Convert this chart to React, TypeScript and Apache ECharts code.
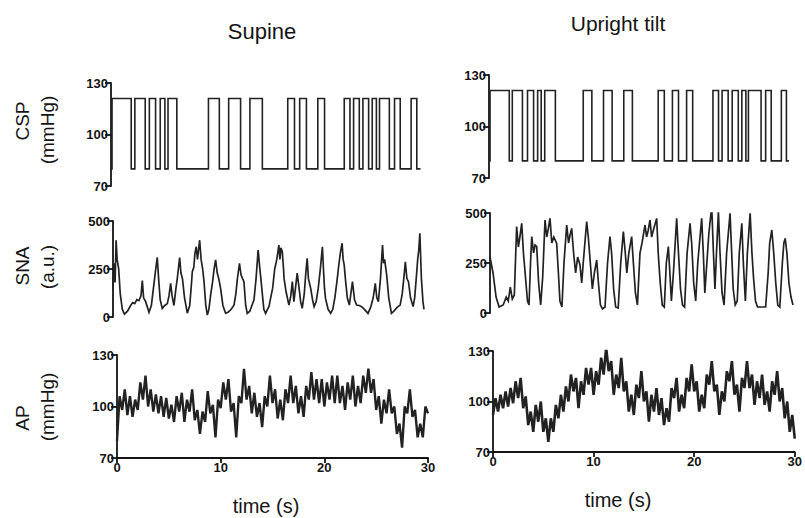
import React, { useEffect, useRef } from "react";
import * as echarts from "echarts";

// ---------- tick labels ----------
const X_TICKS = [0, 10, 20, 30];
const CSP_TICKS = [70, 100, 130];
const SNA_TICKS = [0, 250, 500];
const AP_TICKS = [70, 100, 130];

// ---------- CSP (square-wave neck pressure): levels + switch times (s) ----------
const CSP_LEVELS = [80, 121];
const CSP_SUPINE_SWITCH = [0.1, 1.95, 2.3, 3.3, 3.7, 4.3, 4.75, 5.2, 5.5, 6.35, 9.4, 10.45, 11.35, 12.5, 13.4, 14.6, 17.05, 17.7, 18.2, 18.85, 19.95, 20.6, 22.5, 23.05, 23.4, 23.95, 24.3, 24.85, 25.2, 25.6, 25.9, 26.85, 27.35, 27.9, 28.95, 29.5];
const CSP_SUPINE_END = 29.85;
const CSP_TILT_SWITCH = [0.1, 2.0, 2.3, 3.3, 3.8, 4.4, 4.8, 5.15, 5.5, 6.55, 9.3, 10.15, 11.3, 12.15, 13.3, 14.15, 16.7, 17.3, 18.1, 18.7, 19.5, 20.1, 22.1, 22.65, 23.0, 23.6, 24.0, 24.6, 24.95, 25.35, 25.6, 26.85, 27.3, 27.85, 28.85, 29.35];
const CSP_TILT_END = 29.6;

// ---------- SNA (a.u.) [time s, value] ----------
const SNA_SUPINE: [number, number][] = [
  [0, 150], [0.1, 280], [0.2, 180], [0.3, 400], [0.4, 300], [0.55, 250], [0.7, 120], [0.9, 40], [1.1, 15], [1.4, 30],
  [1.7, 60], [1.9, 75], [2.1, 70], [2.3, 90], [2.5, 85], [2.7, 110], [2.83, 190], [2.95, 100], [3.15, 80], [3.47, 25],
  [3.7, 60], [3.9, 150], [4.1, 240], [4.27, 310], [4.4, 200], [4.55, 90], [4.75, 45], [5.0, 60], [5.24, 70], [5.4, 110],
  [5.56, 175], [5.7, 110], [5.88, 60], [6.05, 140], [6.2, 200], [6.43, 310], [6.55, 230], [6.7, 200], [6.9, 100], [7.17, 20],
  [7.4, 60], [7.55, 160], [7.65, 236], [7.8, 260], [7.9, 330], [8.03, 366], [8.15, 300], [8.25, 350], [8.36, 400], [8.5, 300],
  [8.65, 250], [8.78, 184], [8.95, 60], [9.1, 10], [9.25, 40], [9.42, 115], [9.6, 180], [9.75, 250], [9.9, 297], [10.05, 230],
  [10.2, 200], [10.38, 149], [10.6, 60], [10.86, 20], [11.1, 25], [11.4, 40], [11.67, 62], [11.85, 120], [12.0, 200], [12.2, 280],
  [12.35, 220], [12.5, 200], [12.63, 184], [12.8, 60], [12.95, 19], [13.2, 30], [13.4, 60], [13.6, 89], [13.8, 200], [14.0, 349],
  [14.15, 260], [14.3, 180], [14.4, 123], [14.55, 40], [14.72, 19], [14.9, 40], [15.05, 55], [15.2, 97], [15.4, 150], [15.6, 250],
  [15.8, 300], [16.0, 375], [16.1, 300], [16.2, 360], [16.33, 340], [16.45, 250], [16.5, 201], [16.7, 130], [16.97, 62], [17.15, 110],
  [17.3, 184], [17.45, 80], [17.6, 150], [17.77, 228], [17.95, 150], [18.1, 80], [18.25, 45], [18.45, 120], [18.6, 230], [18.73, 306],
  [18.85, 200], [19.07, 149], [19.25, 90], [19.4, 54], [19.6, 80], [19.8, 150], [20.0, 250], [20.2, 366], [20.3, 250], [20.4, 150],
  [20.5, 97], [20.75, 40], [21.0, 19], [21.2, 40], [21.4, 100], [21.6, 184], [21.8, 280], [21.95, 340], [22.1, 384], [22.2, 300],
  [22.3, 271], [22.45, 180], [22.6, 100], [22.8, 62], [23.1, 184], [23.3, 90], [23.5, 62], [23.75, 60], [23.98, 54], [24.25, 40],
  [24.6, 19], [24.85, 50], [25.1, 100], [25.3, 175], [25.45, 100], [25.6, 80], [25.8, 200], [26.0, 375], [26.1, 280], [26.2, 300],
  [26.4, 219], [26.6, 100], [26.86, 19], [27.1, 30], [27.4, 50], [27.7, 62], [27.9, 120], [28.05, 200], [28.2, 288], [28.35, 200],
  [28.5, 184], [28.7, 100], [28.95, 54], [29.1, 100], [29.25, 200], [29.4, 306], [29.5, 350], [29.6, 436], [29.75, 200], [29.9, 80],
  [30.0, 40],
];

const SNA_TILT: [number, number][] = [
  [0, 280], [0.3, 200], [0.6, 80], [0.9, 30], [1.3, 40], [1.6, 80], [1.8, 60], [2.0, 130], [2.2, 70], [2.4, 90],
  [2.63, 432], [2.8, 330], [2.95, 380], [3.13, 448], [3.3, 300], [3.5, 180], [3.7, 60], [3.85, 40], [4.0, 250], [4.12, 382],
  [4.3, 300], [4.45, 340], [4.61, 332], [4.8, 150], [5.0, 40], [5.2, 180], [5.43, 465], [5.6, 380], [5.75, 420], [5.92, 473],
  [6.1, 350], [6.3, 380], [6.58, 348], [6.75, 200], [6.9, 60], [7.1, 30], [7.3, 250], [7.57, 440], [7.75, 350], [7.9, 390],
  [8.06, 423], [8.25, 300], [8.45, 200], [8.65, 280], [8.88, 240], [9.05, 150], [9.2, 250], [9.54, 457], [9.7, 380], [9.9, 250],
  [10.1, 120], [10.3, 200], [10.53, 265], [10.7, 150], [10.9, 40], [11.1, 20], [11.35, 30], [11.6, 250], [11.84, 382], [12.0, 300],
  [12.2, 120], [12.4, 30], [12.65, 25], [12.9, 250], [13.16, 407], [13.35, 300], [13.5, 200], [13.7, 300], [13.98, 382], [14.15, 250],
  [14.35, 100], [14.55, 40], [14.8, 300], [15.0, 350], [15.3, 440], [15.45, 380], [15.6, 410], [15.79, 465], [15.95, 380], [16.15, 420],
  [16.45, 473], [16.6, 300], [16.8, 150], [17.0, 40], [17.2, 30], [17.4, 250], [17.6, 332], [17.75, 200], [17.9, 60], [18.1, 200],
  [18.42, 473], [18.6, 300], [18.8, 120], [19.0, 40], [19.2, 30], [19.45, 300], [19.74, 448], [19.9, 350], [20.1, 150], [20.3, 60],
  [20.5, 250], [20.89, 473], [21.05, 300], [21.2, 100], [21.4, 250], [21.6, 400], [21.88, 532], [22.05, 300], [22.2, 120], [22.35, 300],
  [22.54, 507], [22.7, 300], [22.9, 100], [23.1, 40], [23.35, 300], [23.69, 498], [23.85, 300], [24.0, 120], [24.2, 40], [24.4, 60],
  [24.6, 300], [24.85, 448], [25.0, 250], [25.2, 60], [25.4, 300], [25.67, 498], [25.85, 300], [26.0, 180], [26.2, 60], [26.4, 30],
  [26.8, 30], [27.2, 30], [27.45, 200], [27.6, 350], [27.81, 415], [28.0, 300], [28.2, 150], [28.4, 40], [28.6, 30], [28.85, 250],
  [29.0, 350], [29.13, 373], [29.3, 300], [29.5, 150], [29.7, 80], [29.9, 40],
];

// ---------- AP (mmHg), sampled every AP_DT seconds ----------
const AP_DT = 0.25;
const AP_SUPINE = [
  80, 106, 98, 110, 95, 106, 94, 104, 98, 114, 104, 118, 100, 110, 97, 107, 96, 106, 94, 105,
  93, 101, 91, 106, 97, 108, 91, 104, 97, 110, 92, 98, 84, 97, 91, 109, 96, 101, 82, 104,
  99, 114, 104, 116, 97, 102, 82, 106, 102, 122, 104, 112, 96, 108, 94, 102, 88, 106, 100, 118,
  102, 110, 93, 104, 92, 110, 102, 118, 102, 112, 96, 106, 94, 112, 104, 120, 104, 116, 102, 116,
  100, 114, 104, 118, 102, 118, 102, 112, 98, 114, 104, 118, 100, 112, 102, 118, 108, 122, 108, 116,
  98, 106, 90, 104, 96, 110, 96, 100, 84, 90, 76, 100, 96, 110, 94, 98, 82, 90, 82, 100,
  96,
];
const AP_TILT = [
  92, 102, 94, 104, 96, 106, 97, 108, 99, 112, 102, 114, 96, 103, 86, 94, 82, 98, 88, 100,
  82, 90, 76, 90, 82, 98, 90, 104, 94, 109, 100, 116, 106, 114, 96, 112, 104, 120, 110, 120,
  104, 118, 110, 126, 116, 132, 118, 124, 104, 116, 108, 126, 106, 112, 94, 104, 92, 110, 102, 118,
  100, 106, 88, 104, 94, 108, 92, 102, 86, 96, 88, 108, 102, 114, 94, 104, 96, 114, 106, 122,
  106, 112, 94, 104, 96, 116, 110, 124, 106, 110, 92, 106, 100, 118, 112, 124, 104, 110, 94, 114,
  108, 124, 108, 116, 98, 112, 102, 116, 98, 106, 94, 112, 104, 118, 100, 108, 90, 100, 82, 92,
  78,
];

// ---------- labels ----------
const COL_TITLES = ["Supine", "Upright tilt"];
const X_NAME = "time (s)";
const ROW_NAMES: [string, string][] = [["CSP", "(mmHg)"], ["SNA", "(a.u.)"], ["AP", "(mmHg)"]];

const FONT = "'Liberation Sans', Arial, Helvetica, sans-serif";
const INK = "#141414";

function stepData(switches: number[], end: number, levels: number[]): [number, number][] {
  const pts: [number, number][] = [];
  let k = 0;
  pts.push([0, levels[k]]);
  for (const s of switches) {
    pts.push([s, levels[k]]);
    k = 1 - k;
    pts.push([s, levels[k]]);
  }
  pts.push([end, levels[k]]);
  return pts;
}

function sampled(values: number[], dt: number): [number, number][] {
  return values.map((v, i) => [i * dt, v]);
}

export default function App() {
  const ref = useRef<HTMLDivElement>(null);
  useEffect(() => {
    if (!ref.current) return;
    const chart = echarts.init(ref.current, null, { renderer: "svg" });

    const grids = [
      { left: 111, top: 83, width: 311, height: 103 },
      { left: 489, top: 75, width: 304, height: 103 },
      { left: 113, top: 221, width: 311, height: 96 },
      { left: 490, top: 213, width: 304, height: 100 },
      { left: 117, top: 355, width: 311, height: 103 },
      { left: 493, top: 351, width: 304, height: 101 },
    ];

    const yDefs = [
      { min: 70, max: 130, ticks: CSP_TICKS },
      { min: 70, max: 130, ticks: CSP_TICKS },
      { min: 0, max: 500, ticks: SNA_TICKS },
      { min: 0, max: 500, ticks: SNA_TICKS },
      { min: 70, max: 130, ticks: AP_TICKS },
      { min: 70, max: 130, ticks: AP_TICKS },
    ];

    const axisLineStyle = { color: INK, width: 1.8 };

    const yAxis = yDefs.map((d, i) => ({
      gridIndex: i,
      type: "value",
      min: d.min,
      max: d.max,
      axisLine: { show: true, onZero: false, lineStyle: axisLineStyle },
      axisTick: { show: true, length: 6, lineStyle: axisLineStyle, customValues: d.ticks },
      axisLabel: {
        customValues: d.ticks,
        fontSize: 13,
        fontWeight: "bold",
        color: INK,
        margin: 3,
        fontFamily: FONT,
      },
      splitLine: { show: false },
    }));

    const xAxis = grids.map((_, i) => {
      const bottom = i >= 4;
      return {
        gridIndex: i,
        type: "value",
        min: 0,
        max: 30,
        show: bottom,
        axisLine: { show: bottom, onZero: false, lineStyle: axisLineStyle },
        axisTick: { show: bottom, length: 5, lineStyle: axisLineStyle, customValues: X_TICKS },
        axisLabel: {
          show: bottom,
          customValues: X_TICKS,
          fontSize: 13,
          fontWeight: "bold",
          color: INK,
          margin: 3,
          fontFamily: FONT,
        },
        splitLine: { show: false },
      };
    });

    const datasets: [number, number][][] = [
      stepData(CSP_SUPINE_SWITCH, CSP_SUPINE_END, CSP_LEVELS),
      stepData(CSP_TILT_SWITCH, CSP_TILT_END, CSP_LEVELS),
      SNA_SUPINE,
      SNA_TILT,
      sampled(AP_SUPINE, AP_DT),
      sampled(AP_TILT, AP_DT),
    ];

    const widths = [1.6, 1.6, 1.7, 1.7, 2.4, 2.6];
    const series = datasets.map((data, i) => ({
      type: "line",
      xAxisIndex: i,
      yAxisIndex: i,
      data,
      showSymbol: false,
      symbol: "none",
      lineStyle: { color: "#222", width: widths[i], join: "miter" },
      silent: true,
    }));

    const txt = (text: string, x: number, y: number, size: number, rotation = 0) => ({
      type: "text",
      x,
      y,
      rotation,
      style: {
        text,
        fill: INK,
        font: `${size}px ${FONT}`,
        textAlign: "center",
        textVerticalAlign: "middle",
      },
    });

    const rowY = [[121, 130], [266, 267], [418, 407]];
    const graphics: any[] = [
      txt(COL_TITLES[0], 262, 31, 22),
      txt(COL_TITLES[1], 618, 23, 21),
      txt(X_NAME, 266, 506, 20),
      txt(X_NAME, 618, 500, 20),
    ];
    ROW_NAMES.forEach((pair, r) => {
      graphics.push(txt(pair[0], 22, rowY[r][0], 19, Math.PI / 2));
      graphics.push(txt(pair[1], 47, rowY[r][1], 19, Math.PI / 2));
    });

    chart.setOption({
      animation: false,
      backgroundColor: "#ffffff",
      grid: grids.map((g) => ({ ...g, containLabel: false })),
      xAxis,
      yAxis,
      series,
      graphic: graphics,
    });

    return () => chart.dispose();
  }, []);

  return (
    <div
      ref={ref}
      style={{ position: "fixed", left: 0, top: 0, width: 805, height: 518 }}
    />
  );
}
